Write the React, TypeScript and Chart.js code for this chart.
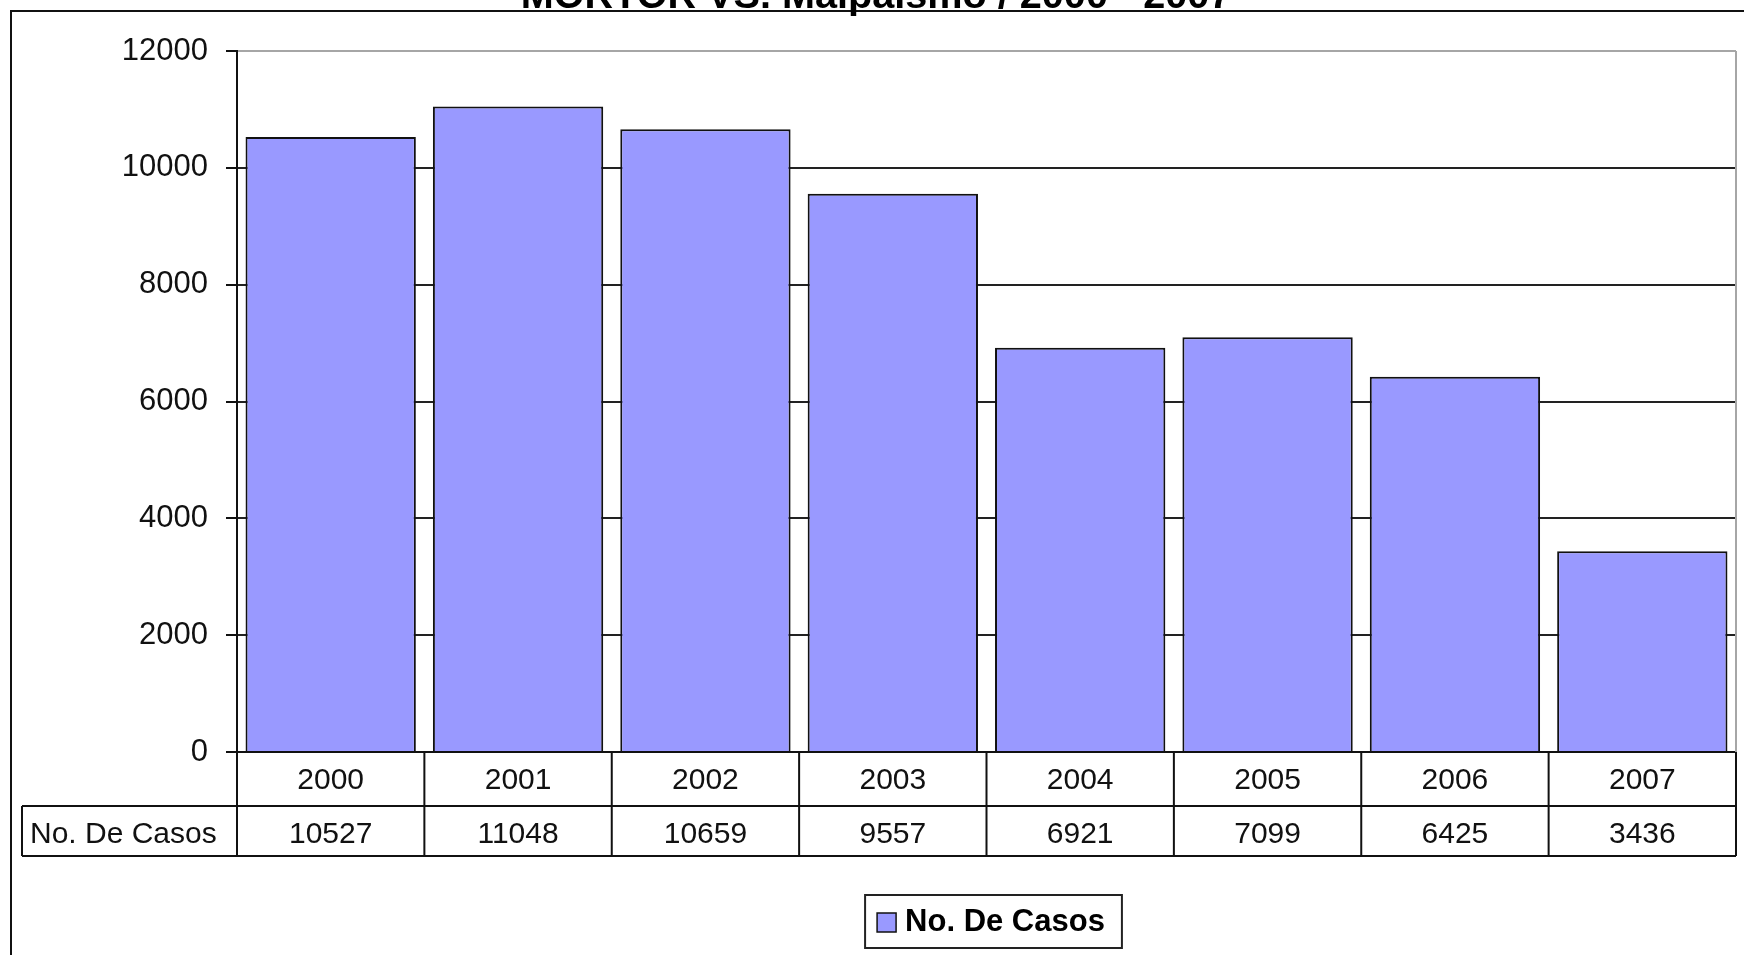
import React, { useEffect, useRef } from "react";
import { Chart, registerables } from "chart.js";

Chart.register(...registerables);

const titleText = "MORTOR VS. Malpaismo / 2000 - 2007";
const seriesName = "No. De Casos";
const categories = ["2000", "2001", "2002", "2003", "2004", "2005", "2006", "2007"];
const values = [10527, 11048, 10659, 9557, 6921, 7099, 6425, 3436];
const yMin = 0;
const yMax = 12000;
const yStep = 2000;

const FONT = '"Liberation Sans", Arial, Helvetica, sans-serif';
const BAR_COLOR = "#9999FF";
const W = 1744;
const H = 955;

const decorPlugin = {
  id: "decor",
  beforeDraw(chart: any) {
    const ctx = chart.ctx;
    ctx.save();
    ctx.fillStyle = "#ffffff";
    ctx.fillRect(0, 0, chart.width, chart.height);
    ctx.restore();
  },
  afterDraw(chart: any) {
    const ctx = chart.ctx as CanvasRenderingContext2D;
    const area = chart.chartArea;
    const xs = chart.scales.x;
    const n = categories.length;
    const colW = (area.right - area.left) / n;

    ctx.save();

    // plot area right border (gray)
    ctx.strokeStyle = "#a6a6a6";
    ctx.lineWidth = 2;
    ctx.beginPath();
    ctx.moveTo(area.right, area.top);
    ctx.lineTo(area.right, area.bottom);
    ctx.stroke();

    // data table
    const r0 = area.bottom;
    const r1 = r0 + 54;
    const r2 = r1 + 50;
    const headLeft = 22;
    ctx.strokeStyle = "#111";
    ctx.lineWidth = 2;
    ctx.beginPath();
    for (let i = 0; i <= n; i++) {
      const xx = i < n ? xs.getPixelForValue(i) - colW / 2 : xs.getPixelForValue(n - 1) + colW / 2;
      ctx.moveTo(xx, r0);
      ctx.lineTo(xx, r2);
    }
    ctx.moveTo(headLeft, r1);
    ctx.lineTo(area.right, r1);
    ctx.moveTo(headLeft, r2);
    ctx.lineTo(area.right, r2);
    ctx.moveTo(headLeft, r1);
    ctx.lineTo(headLeft, r2);
    ctx.stroke();

    ctx.fillStyle = "#111";
    ctx.font = `30px ${FONT}`;
    ctx.textBaseline = "middle";
    ctx.textAlign = "center";
    for (let i = 0; i < n; i++) {
      const cx = xs.getPixelForValue(i);
      ctx.fillText(categories[i], cx, (r0 + r1) / 2 + 2);
      ctx.fillText(String(values[i]), cx, (r1 + r2) / 2 + 4);
    }
    ctx.textAlign = "left";
    ctx.fillText(seriesName, headLeft + 8, (r1 + r2) / 2 + 4);

    // legend
    ctx.font = `bold 31px ${FONT}`;
    const tw = ctx.measureText(seriesName).width;
    const sw = 19;
    const boxW = 12 + sw + 9 + tw + 17;
    const boxH = 53;
    const lcx = (area.left + area.right) / 2 + 7;
    const bx = lcx - boxW / 2;
    const by = 895;
    ctx.strokeStyle = "#222";
    ctx.lineWidth = 2;
    ctx.strokeRect(bx, by, boxW, boxH);
    ctx.fillStyle = BAR_COLOR;
    ctx.fillRect(bx + 12, by + 18, sw, sw);
    ctx.strokeStyle = "#111";
    ctx.lineWidth = 1.5;
    ctx.strokeRect(bx + 12, by + 18, sw, sw);
    ctx.fillStyle = "#000";
    ctx.textBaseline = "middle";
    ctx.textAlign = "left";
    ctx.fillText(seriesName, bx + 12 + sw + 9, by + boxH / 2 + 1);

    // outer chart border (right and bottom edges fall outside the picture)
    ctx.strokeStyle = "#111";
    ctx.lineWidth = 2;
    ctx.beginPath();
    ctx.moveTo(chart.width + 5, 11);
    ctx.lineTo(11, 11);
    ctx.lineTo(11, chart.height + 5);
    ctx.stroke();

    // title (mostly cut off at the top of the picture)
    ctx.font = `bold 36px ${FONT}`;
    const titleW = ctx.measureText(titleText).width;
    const size = (36 * 711) / titleW;
    ctx.font = `bold ${size}px ${FONT}`;
    ctx.fillStyle = "#000";
    ctx.textAlign = "center";
    ctx.textBaseline = "alphabetic";
    ctx.fillText(titleText, 876, 8);

    ctx.restore();
  },
};

export default function App() {
  const canvasRef = useRef<HTMLCanvasElement | null>(null);

  useEffect(() => {
    const canvas = canvasRef.current;
    if (!canvas) return;
    const chart = new Chart(canvas, {
      type: "bar",
      data: {
        labels: categories,
        datasets: [
          {
            label: seriesName,
            data: values,
            backgroundColor: BAR_COLOR,
            borderColor: "#111",
            borderWidth: 2,
            categoryPercentage: 1,
            barPercentage: 0.909,
          },
        ],
      },
      options: {
        responsive: false,
        animation: false,
        devicePixelRatio: 1,
        layout: { padding: { top: 51, right: 8, left: 0, bottom: 0 } },
        plugins: {
          legend: { display: false },
          title: { display: false },
          tooltip: { enabled: false },
        },
        scales: {
          x: {
            grid: { display: false },
            ticks: { display: false },
            border: { display: true, color: "#111", width: 2 },
            afterFit: (scale: any) => {
              scale.height = 203;
            },
          },
          y: {
            min: yMin,
            max: yMax,
            ticks: {
              stepSize: yStep,
              padding: 18,
              color: "#111",
              font: { family: FONT, size: 31 },
              callback: (v: any) => String(v),
            },
            grid: {
              color: (c: any) => (c.tick && c.tick.value === yMax ? "#a6a6a6" : "#222"),
              tickColor: "#111",
              lineWidth: 2,
              tickLength: 11,
              drawTicks: true,
            },
            border: { display: true, color: "#111", width: 2 },
            afterFit: (scale: any) => {
              scale.width = 237;
            },
          },
        },
      },
      plugins: [decorPlugin],
    });
    return () => chart.destroy();
  }, []);

  return (
    <div style={{ position: "fixed", left: 0, top: 0, width: W, height: H, background: "#fff" }}>
      <canvas ref={canvasRef} width={W} height={H} style={{ display: "block", width: W, height: H }} />
    </div>
  );
}
